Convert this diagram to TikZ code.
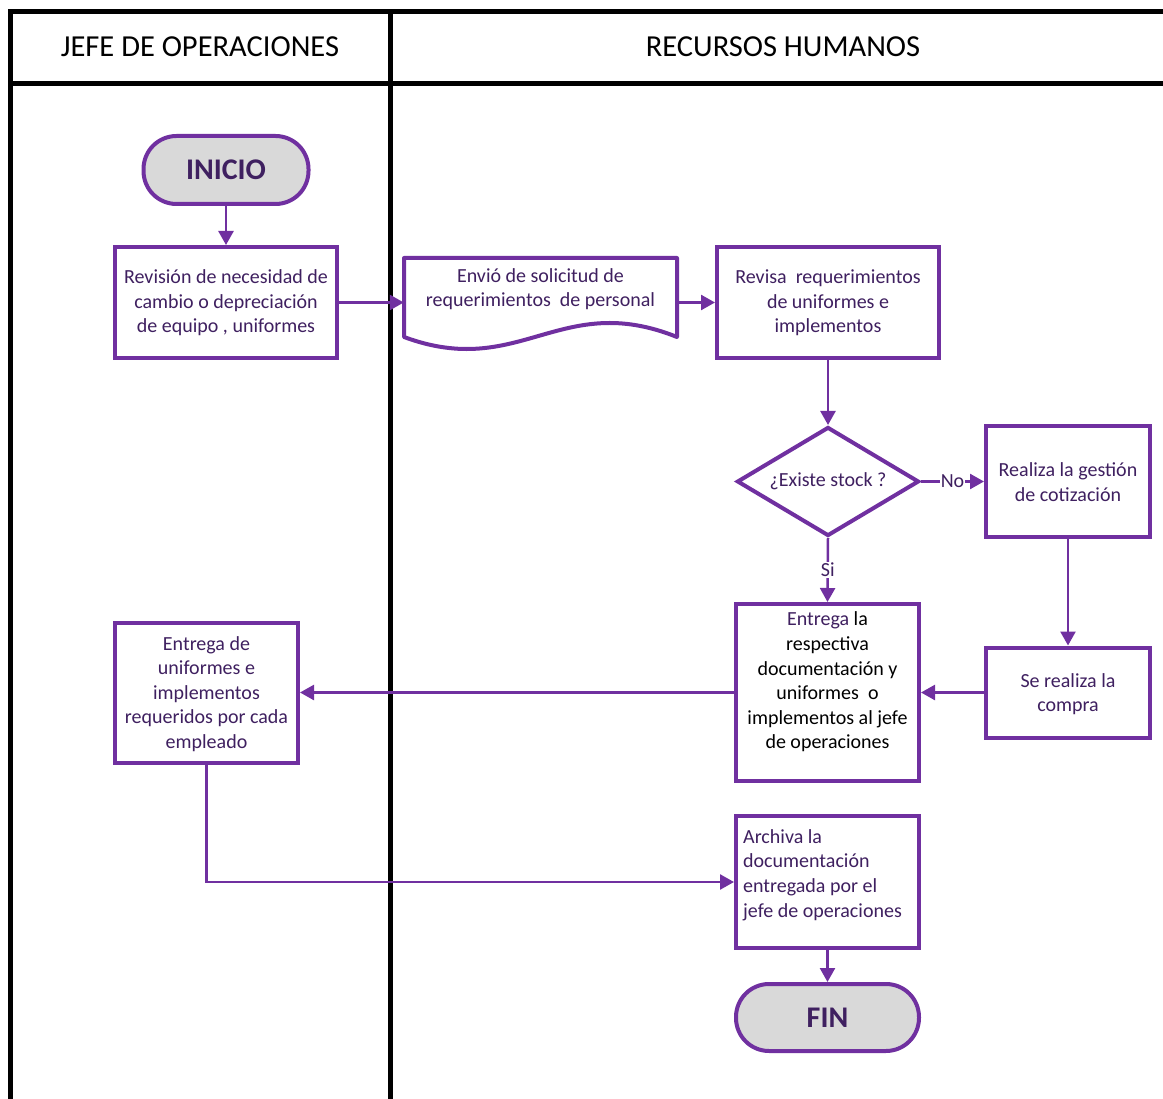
\documentclass[tikz,border=0pt]{standalone}
\usepackage{fontspec}
\setmainfont{Carlito}
\usetikzlibrary{arrows.meta,shapes.geometric}
\definecolor{pur}{HTML}{7030A0}
\definecolor{txt}{HTML}{3F2060}
\definecolor{term}{HTML}{D9D9D9}
\begin{document}
\begin{tikzpicture}[x=1pt,y=-1pt,
  lane/.style={line width=5pt,black},
  box/.style={draw=pur,line width=4pt,fill=white,inner sep=0pt,rectangle},
  txtn/.style={text=txt,font=\fontsize{20}{24.6}\selectfont,align=center,inner sep=0pt},
  termbox/.style={draw=pur,line width=4pt,fill=term,rounded corners=33pt,inner sep=0pt,
    text=txt,font=\fontsize{30}{32}\selectfont\bfseries},
  conn/.style={draw=pur,line width=2.5pt,-{Triangle[length=14pt,width=15pt]}},
  edgelbl/.style={fill=white,inner sep=1pt,text=txt,font=\fontsize{20}{22}\selectfont},
  hdr/.style={font=\fontsize{30.5}{32}\selectfont,text=black}]
\useasboundingbox (0,0) rectangle (1163,1099);
% swimlanes
\draw[lane] (1163,11.5) -- (10,11.5) -- (10,1099);
\draw[lane] (10,83.5) -- (1163,83.5);
\draw[lane] (390.5,11.5) -- (390.5,1099);
\node[hdr] (h1) at (200,47) {JEFE DE OPERACIONES};
\node[hdr] (h2) at (783,47) {RECURSOS HUMANOS};
% nodes
\node[termbox,minimum width=165pt,minimum height=68pt] (ini) at (226,170) {INICIO};
\node[box,minimum width=222pt,minimum height=111pt] (b1) at (226,302.5) {};
\node[txtn] (t1) at (226,303) {Revisión de necesidad de\\cambio o depreciación\\de equipo , uniformes};
% document shape
\node[inner sep=0pt,minimum width=273pt,minimum height=88pt] (doc) at (540.5,302.5) {};
\coordinate (docr) at (677,302.5);
\draw[draw=pur,line width=4pt,line join=round,fill=white]
  (404,258) -- (677,258) -- (677,337) .. controls (560,290) and (520,380) .. (404,337) -- cycle;
\node[txtn] (tdoc) at (540.5,289) {Envió de solicitud de\\requerimientos\ \ de personal};
\node[box,minimum width=222pt,minimum height=111pt] (b2) at (828,302.5) {};
\node[txtn] (t2) at (828,303) {Revisa\ \ requerimientos\\de uniformes e\\implementos};
\node[draw=pur,line width=4pt,fill=white,diamond,aspect=1.67,inner sep=0pt,minimum width=182pt,minimum height=109pt,
  text=txt,font=\fontsize{20}{24.6}\selectfont] (dia) at (828,481.5) {¿Existe stock ?};
\node[box,minimum width=164pt,minimum height=110pt] (b3) at (1068,481.5) {};
\node[txtn] (t3) at (1068,482) {Realiza la gestión\\de cotización};
\node[box,minimum width=164pt,minimum height=90pt] (b4) at (1068,692.5) {};
\node[txtn] (t4) at (1068,694) {Se realiza la\\compra};
\node[box,minimum width=183pt,minimum height=177pt] (b5) at (827.5,692.5) {};
\node[txtn,text=black] (t5) at (827.5,682) {\textcolor{txt}{Entrega} la\\respectiva\\documentación y\\uniformes\ \ o\\implementos al jefe\\de operaciones};
\node[box,minimum width=183pt,minimum height=140pt] (b6) at (206.5,692.5) {};
\node[txtn] (t6) at (206.5,694) {Entrega de\\uniformes e\\implementos\\requeridos por cada\\empleado};
\node[box,minimum width=183pt,minimum height=132pt] (b7) at (827.5,882) {};
\node[txtn,align=left,anchor=west] (t7) at (743,875) {Archiva la\\documentación\\entregada por el\\jefe de operaciones};
\node[termbox,minimum width=183pt,minimum height=67pt] (fin) at (827.5,1017.5) {FIN};
% connectors
\draw[conn] (ini.south) -- (b1.north);
\draw[conn] (b1.east) -- (doc.west);
\draw[conn] (docr) -- (b2.west);
\draw[conn] (b2.south) -- (dia.north);
\draw[conn] (dia.east) -- node[edgelbl,pos=0.5] (no) {No} (b3.west);
\draw[conn] (dia.south) -- node[edgelbl,pos=0.5] (si) {Si} (b5.north);
\draw[conn] (b3.south) -- (b4.north);
\draw[conn] (b4.west) -- (b5.east);
\draw[conn] (b5.west) -- (b6.east);
\draw[conn] (b6.south) |- (b7.west);
\draw[conn] (b7.south) -- (fin.north);
\end{tikzpicture}
\end{document}
